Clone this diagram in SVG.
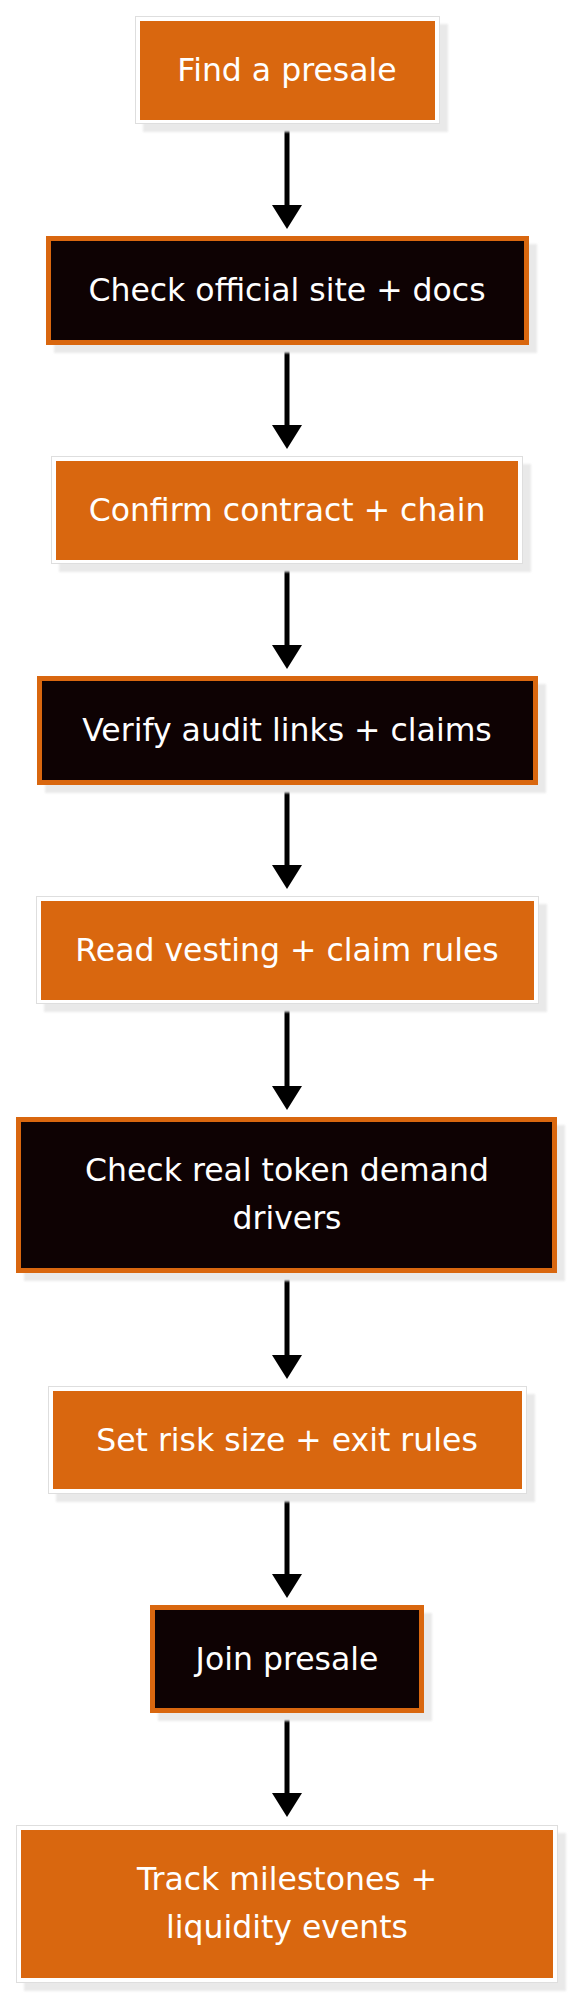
<svg xmlns="http://www.w3.org/2000/svg" width="575" height="1999" viewBox="0 0 575 1999">
<style>
  .shadow { fill: #e9e9e9; filter: url(#blur); }
  .frame { fill: #ffffff; stroke: #dedede; stroke-width: 1; }
  .orange { fill: #d9670f; }
  .dark { fill: #0e0203; stroke: #d9670f; stroke-width: 5; }
  .label { fill: #ffffff; font-family: "DejaVu Sans", "Liberation Sans", sans-serif; font-size: 31.5px; text-anchor: middle; }
  .edge { stroke: #000000; stroke-width: 5; fill: none; marker-end: url(#arrow); }
</style>
<defs>
  <filter id="blur" x="-5%" y="-5%" width="110%" height="110%"><feGaussianBlur stdDeviation="1"/></filter>
  <marker id="arrow" viewBox="0 0 24 30" refX="0" refY="15" markerWidth="24" markerHeight="30" markerUnits="userSpaceOnUse" orient="auto">
    <path d="M0,0 L24,15 L0,30 z" fill="#000000"/>
  </marker>
</defs>
<rect width="575" height="1999" fill="#ffffff"/>

<g id="connectors">
  <path class="edge" d="M287,124 V205"/>
  <path class="edge" d="M287,345 V425"/>
  <path class="edge" d="M287,564 V645"/>
  <path class="edge" d="M287,785 V865"/>
  <path class="edge" d="M287,1004 V1086"/>
  <path class="edge" d="M287,1273 V1355"/>
  <path class="edge" d="M287,1494 V1574"/>
  <path class="edge" d="M287,1713 V1793"/>
</g>

<g id="n1">
  <rect class="shadow" x="143" y="24" width="305" height="108"/>
  <rect class="frame" x="135.5" y="16.5" width="304" height="107"/>
  <rect class="orange" x="140" y="21" width="295" height="99"/>
  <text class="label" x="287" y="81">Find a presale</text>
</g>
<g id="n2">
  <rect class="shadow" x="54" y="244" width="483" height="109"/>
  <rect class="dark" x="48.5" y="238.5" width="478" height="104"/>
  <text class="label" x="287" y="301">Check official site + docs</text>
</g>
<g id="n3">
  <rect class="shadow" x="59" y="464" width="472" height="108"/>
  <rect class="frame" x="51.5" y="456.5" width="471" height="107"/>
  <rect class="orange" x="56" y="461" width="462" height="99"/>
  <text class="label" x="287" y="521">Confirm contract + chain</text>
</g>
<g id="n4">
  <rect class="shadow" x="45" y="684" width="501" height="109"/>
  <rect class="dark" x="39.5" y="678.5" width="496" height="104"/>
  <text class="label" x="287" y="741">Verify audit links + claims</text>
</g>
<g id="n5">
  <rect class="shadow" x="44" y="904" width="503" height="108"/>
  <rect class="frame" x="36.5" y="896.5" width="502" height="107"/>
  <rect class="orange" x="41" y="901" width="493" height="99"/>
  <text class="label" x="287" y="961">Read vesting + claim rules</text>
</g>
<g id="n6">
  <rect class="shadow" x="24" y="1125" width="541" height="156"/>
  <rect class="dark" x="18.5" y="1119.5" width="536" height="151"/>
  <text class="label" x="287" y="1181">Check real token demand</text>
  <text class="label" x="287" y="1229">drivers</text>
</g>
<g id="n7">
  <rect class="shadow" x="56" y="1394" width="479" height="108"/>
  <rect class="frame" x="48.5" y="1386.5" width="478" height="107"/>
  <rect class="orange" x="53" y="1391" width="469" height="98"/>
  <text class="label" x="287" y="1451">Set risk size + exit rules</text>
</g>
<g id="n8">
  <rect class="shadow" x="158" y="1613" width="274" height="108"/>
  <rect class="dark" x="152.5" y="1607.5" width="269" height="103"/>
  <text class="label" x="287" y="1670">Join presale</text>
</g>
<g id="n9">
  <rect class="shadow" x="24" y="1833" width="542" height="158"/>
  <rect class="frame" x="16.5" y="1825.5" width="541" height="157"/>
  <rect class="orange" x="21" y="1830" width="532" height="148"/>
  <text class="label" x="287" y="1890">Track milestones +</text>
  <text class="label" x="287" y="1938">liquidity events</text>
</g>
</svg>
